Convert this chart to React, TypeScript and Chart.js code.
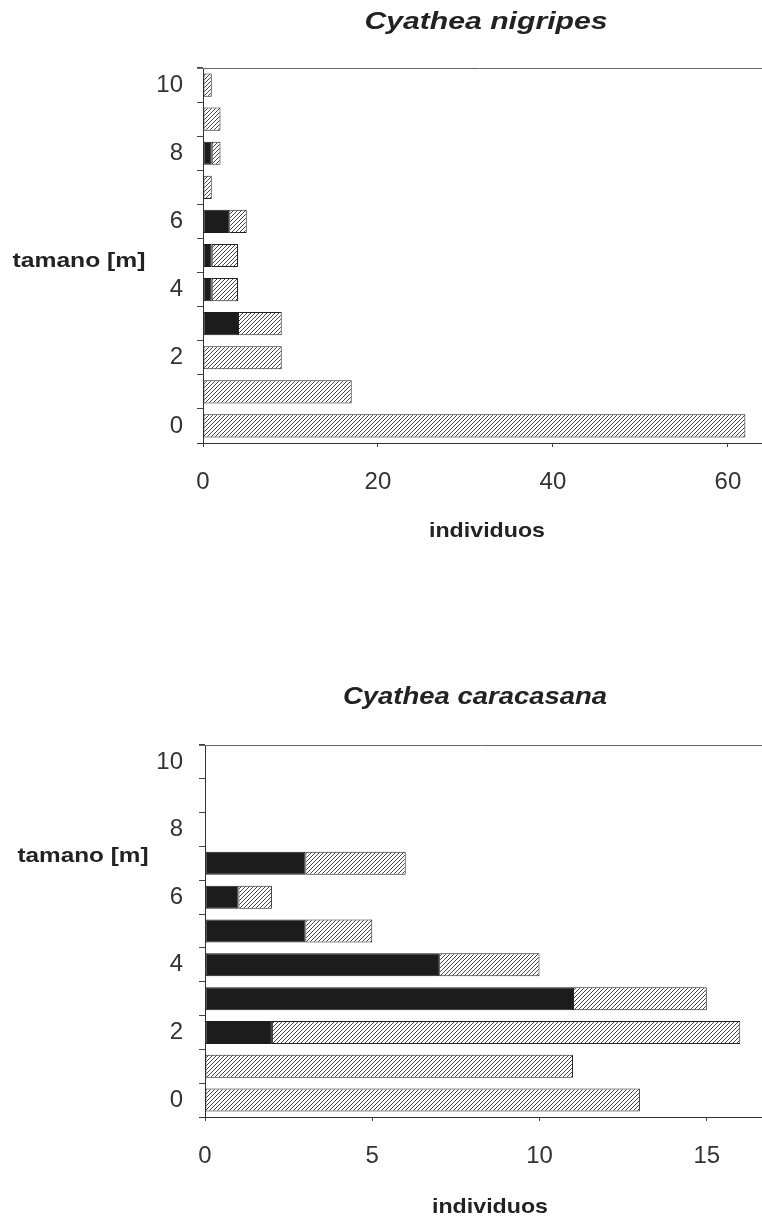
import React, { useEffect, useRef } from "react";
import { Chart, registerables } from "chart.js";

Chart.register(...registerables);

// ---------- data ----------
const sizeClasses = ["0", "1", "2", "3", "4", "5", "6", "7", "8", "9", "10"];
const sizeTickLabels = ["0", "", "2", "", "4", "", "6", "", "8", "", "10"];

const nigripesDark = [0, 0, 0, 4, 1, 1, 3, 0, 1, 0, 0];
const nigripesHatched = [62, 17, 9, 5, 3, 3, 2, 1, 1, 2, 1];

const caracasanaDark = [0, 0, 2, 11, 7, 3, 1, 3, 0, 0, 0];
const caracasanaHatched = [13, 11, 14, 4, 3, 2, 1, 3, 0, 0, 0];

const nigripesTitle = "Cyathea nigripes";
const caracasanaTitle = "Cyathea caracasana";
const yAxisTitle = "tamano [m]";
const xAxisTitle = "individuos";

const FONT = "'Liberation Sans', Arial, sans-serif";

function makeHatch(): CanvasPattern | string {
  const c = document.createElement("canvas");
  const s = 4;
  c.width = s;
  c.height = s;
  const g = c.getContext("2d");
  if (!g) return "#fff";
  g.fillStyle = "#ffffff";
  g.fillRect(0, 0, s, s);
  g.strokeStyle = "#303030";
  g.lineWidth = 0.9;
  g.beginPath();
  g.moveTo(0, s);
  g.lineTo(s, 0);
  g.moveTo(-1, 1);
  g.lineTo(1, -1);
  g.moveTo(s - 1, s + 1);
  g.lineTo(s + 1, s - 1);
  g.stroke();
  const p = g.createPattern(c, "repeat");
  return p || "#fff";
}

type TextSpec = { text: string; font: string; cx: number; base: number; width: number };

type Layout = {
  height: number;
  plotTop: number;
  yWidth: number;
  xHeight: number;
  xMax: number;
  xStep: number;
  yPad: number;
  xPad: number;
  texts: TextSpec[];
};

function drawStretched(ctx: CanvasRenderingContext2D, t: TextSpec) {
  ctx.save();
  ctx.font = t.font;
  const w = ctx.measureText(t.text).width || 1;
  const sx = t.width / w;
  ctx.translate(t.cx, t.base);
  ctx.scale(sx, 1);
  ctx.textAlign = "center";
  ctx.textBaseline = "alphabetic";
  ctx.fillText(t.text, 0, 0);
  ctx.restore();
}

function makeChart(
  canvas: HTMLCanvasElement,
  dark: number[],
  hatched: number[],
  L: Layout
) {
  const hatch = makeHatch();
  const textPlugin = {
    id: "textPlugin",
    afterDraw(chart: any) {
      const ctx = chart.ctx as CanvasRenderingContext2D;
      const a = chart.chartArea;
      ctx.save();
      ctx.strokeStyle = "#666";
      ctx.lineWidth = 1;
      ctx.beginPath();
      ctx.moveTo(a.left - 6, a.top + 0.5);
      ctx.lineTo(a.right, a.top + 0.5);
      ctx.stroke();
      ctx.beginPath();
      ctx.strokeStyle = "#333";
      ctx.moveTo(a.left - 6, a.bottom + 0.5);
      ctx.lineTo(a.left, a.bottom + 0.5);
      ctx.stroke();
      ctx.fillStyle = "#222";
      L.texts.forEach((t) => drawStretched(ctx, t));
      ctx.restore();
    },
  };

  return new Chart(canvas, {
    type: "bar",
    data: {
      labels: sizeClasses,
      datasets: [
        {
          label: "dark",
          data: dark.map((v) => (v === 0 ? null : v)),
          backgroundColor: "#1c1c1c",
          borderColor: "#1c1c1c",
          borderWidth: 1,
          borderSkipped: false,
          barPercentage: 0.68,
          categoryPercentage: 1,
        },
        {
          label: "hatched",
          data: hatched.map((v) => (v === 0 ? null : v)),
          backgroundColor: hatch as any,
          borderColor: "#222",
          borderWidth: 1,
          borderSkipped: false,
          barPercentage: 0.68,
          categoryPercentage: 1,
        },
      ],
    },
    options: {
      indexAxis: "y",
      animation: false,
      responsive: false,
      maintainAspectRatio: false,
      layout: { padding: { top: L.plotTop, right: 0, bottom: 0, left: 0 } },
      plugins: {
        legend: { display: false },
        tooltip: { enabled: false },
        title: { display: false },
      },
      scales: {
        x: {
          type: "linear",
          stacked: true,
          min: 0,
          max: L.xMax,
          position: "bottom",
          ticks: {
            stepSize: L.xStep,
            includeBounds: false,
            font: { family: FONT, size: 24 },
            color: "#333",
            padding: L.xPad,
            maxRotation: 0,
          },
          grid: {
            drawOnChartArea: false,
            tickLength: 4,
            color: "#444",
          },
          border: { color: "#333", width: 1 },
          afterFit: (s: any) => {
            s.height = L.xHeight;
            s.paddingLeft = 0;
            s.paddingRight = 0;
          },
        } as any,
        y: {
          type: "category",
          stacked: true,
          reverse: true,
          offset: true,
          ticks: {
            autoSkip: false,
            callback: (v: any) => sizeTickLabels[v as number],
            font: { family: FONT, size: 24 },
            color: "#333",
            padding: L.yPad,
          },
          grid: {
            offset: true,
            drawOnChartArea: false,
            tickLength: 6,
            color: "#444",
          },
          border: { color: "#333", width: 1 },
          afterFit: (s: any) => {
            s.width = L.yWidth;
            s.paddingTop = 0;
            s.paddingBottom = 0;
          },
        } as any,
      },
    },
    plugins: [textPlugin],
  } as any);
}

const topLayout: Layout = {
  height: 580,
  plotTop: 68,
  yWidth: 203,
  xHeight: 137,
  xMax: 63.9,
  xStep: 20,
  yPad: 14,
  xPad: 21,
  texts: [
    { text: nigripesTitle, font: `italic bold 24px ${FONT}`, cx: 486, base: 29, width: 243 },
    { text: yAxisTitle, font: `bold 21px ${FONT}`, cx: 79, base: 267, width: 133 },
    { text: xAxisTitle, font: `bold 21px ${FONT}`, cx: 487, base: 537, width: 116 },
  ],
};

const bottomLayout: Layout = {
  height: 619,
  plotTop: 145,
  yWidth: 205,
  xHeight: 102,
  xMax: 16.65,
  xStep: 5,
  yPad: 16,
  xPad: 21,
  texts: [
    { text: caracasanaTitle, font: `italic bold 24px ${FONT}`, cx: 475, base: 104, width: 264 },
    { text: yAxisTitle, font: `bold 21px ${FONT}`, cx: 83, base: 262, width: 131 },
    { text: xAxisTitle, font: `bold 21px ${FONT}`, cx: 490, base: 613, width: 116 },
  ],
};

export default function App() {
  const topRef = useRef<HTMLCanvasElement | null>(null);
  const botRef = useRef<HTMLCanvasElement | null>(null);

  useEffect(() => {
    const charts: Chart[] = [];
    if (topRef.current)
      charts.push(makeChart(topRef.current, nigripesDark, nigripesHatched, topLayout));
    if (botRef.current)
      charts.push(
        makeChart(botRef.current, caracasanaDark, caracasanaHatched, bottomLayout)
      );
    return () => charts.forEach((c) => c.destroy());
  }, []);

  return (
    <div
      style={{
        position: "absolute",
        left: 0,
        top: 0,
        width: 762,
        height: 1219,
        background: "#fff",
        overflow: "hidden",
      }}
    >
      <canvas
        ref={topRef}
        width={762}
        height={topLayout.height}
        style={{ position: "absolute", left: 0, top: 0 }}
      />
      <canvas
        ref={botRef}
        width={762}
        height={bottomLayout.height}
        style={{ position: "absolute", left: 0, top: 600 }}
      />
    </div>
  );
}
